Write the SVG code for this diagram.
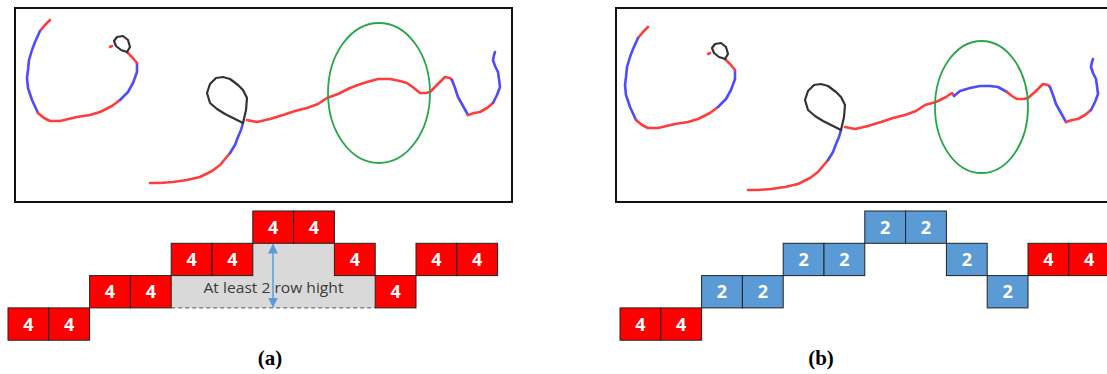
<svg xmlns="http://www.w3.org/2000/svg" width="1107" height="374" viewBox="0 0 1107 374">
<style>
.frame{fill:#fff;stroke:#111;stroke-width:2}
.s{fill:none;stroke-width:2.6;stroke-linejoin:round;stroke-linecap:round}
.r{stroke:#ff3d3d}
.b{stroke:#4d4dff}
.k{stroke:#333;stroke-width:2.2}
.g{fill:none;stroke:#2aa64a;stroke-width:1.8}
.cr{fill:#ff0000;stroke:#222;stroke-width:1}
.cb{fill:#5b9bd5;stroke:#222;stroke-width:1}
.n{font-family:"Open Sans","Liberation Sans",sans-serif;font-weight:bold;font-size:18px;fill:#fff;text-anchor:middle}
.lbl{font-family:"Liberation Serif",serif;font-weight:bold;font-size:21px;fill:#000;text-anchor:middle}
.note{font-family:"Open Sans","Liberation Sans",sans-serif;font-size:15px;fill:#3a3a3a;text-anchor:middle}
</style>
<defs>
<marker id="ah" viewBox="0 0 10 10" refX="9" refY="5" markerWidth="10" markerHeight="10" markerUnits="userSpaceOnUse" orient="auto-start-reverse">
<path d="M0,0 L10,5 L0,10 Z" fill="#5b9bd5"/>
</marker>
</defs>

<!-- Panel (a) drawing -->
<g id="panel-a">
<rect class="frame" x="15" y="8" width="497" height="194"/>
<g id="strokes-a">
<polyline class="s r" points="50,20 45,25 40,31"/>
<polyline class="s b" points="40,31 35,42 32,50 29,60 28,70 27,78 28,88 32,100 38,113"/>
<polyline class="s r" points="38,113 44,118 50,121 60,121 77,117 90,115 100,112 112,106 120,100"/>
<polyline class="s b" points="120,100 128,92 133,83 137,72 137,63"/>
<polyline class="s r" points="137,63 132,57 127,52"/>
<polyline class="s k" points="127,52 130,47 128,40 123,36 117,37 114,41 116,46 121,50 127,52"/>
<polyline class="s r" points="112,46 110,47"/>
<polyline class="s r" points="150,183 160,183 173,182 187,180 200,177 212,171 220,165 230,153"/>
<polyline class="s b" points="230,153 235,145 238,137 241,130 243,123"/>
<polyline class="s k" points="243,123 246,110 247,98 243,90 238,85 230,79 223,77 216,78 210,84 207,93 210,103 217,109 225,114 243,123"/>
<polyline class="s r" points="247,120 257,122 270,119 283,115 295,111 307,108 318,104 327,98 338,94 350,88 358,85 367,82 378,79 390,79 400,81 407,83 414,88 420,93 426,93 430,92 437,85 445,77 450,78 452,80"/>
<polyline class="s b" points="452,80 455,88 458,97 463,106 468,115"/>
<polyline class="s r" points="468,115 474,113 480,112 487,108 493,103"/>
<polyline class="s b" points="493,103 497,95 500,87 499,79 498,72 495,66 493,60 494,55 495,52"/>
</g>
<ellipse class="g" cx="379" cy="93" rx="51" ry="70"/>
</g>

<!-- Panel (b) drawing -->
<g id="panel-b">
<rect class="frame" x="616" y="8" width="500" height="194"/>
<g id="strokes-b" transform="translate(598,7)">
<polyline class="s r" points="50,20 45,25 40,31"/>
<polyline class="s b" points="40,31 35,42 32,50 29,60 28,70 27,78 28,88 32,100 38,113"/>
<polyline class="s r" points="38,113 44,118 50,121 60,121 77,117 90,115 100,112 112,106 120,100"/>
<polyline class="s b" points="120,100 128,92 133,83 137,72 137,63"/>
<polyline class="s r" points="137,63 132,57 127,52"/>
<polyline class="s k" points="127,52 130,47 128,40 123,36 117,37 114,41 116,46 121,50 127,52"/>
<polyline class="s r" points="112,46 110,47"/>
<polyline class="s r" points="150,183 160,183 173,182 187,180 200,177 212,171 220,165 230,153"/>
<polyline class="s b" points="230,153 235,145 238,137 241,130 243,123"/>
<polyline class="s k" points="243,123 246,110 247,98 243,90 238,85 230,79 223,77 216,78 210,84 207,93 210,103 217,109 225,114 243,123"/>
<polyline class="s r" points="247,120 257,122 270,119 283,115 295,111 307,108 318,104 327,98 338,95 348,90 354,86 356,89"/>
<polyline class="s b" points="356,89 362,84 372,81 382,79 392,79 400,80 409,85"/>
<polyline class="s r" points="409,85 414,89 419,92 426,92 430,91 437,85 445,77 450,78 452,80"/>
<polyline class="s b" points="452,80 455,88 458,97 463,106 468,115"/>
<polyline class="s r" points="468,115 474,113 480,112 487,108 493,103"/>
<polyline class="s b" points="493,103 497,95 500,87 499,79 498,72 495,66 493,60 494,55 495,52"/>
</g>
<ellipse class="g" cx="981.5" cy="107" rx="46.5" ry="66"/>
</g>

<!-- Grid (a) -->
<path id="gap-region" d="M252.8,243.3 H334.4 V275.6 H375.2 V307.9 H171.2 V275.6 H252.8 Z" fill="#d9d9d9"/>
<line x1="171.2" y1="307.9" x2="375.2" y2="307.9" stroke="#555" stroke-width="1" stroke-dasharray="4,3"/>

<g id="a-r3c0"><rect class="cr" x="8" y="307.9" width="40.8" height="32.3"/><text class="n" x="28.4" y="330.5">4</text></g>
<g id="a-r3c1"><rect class="cr" x="48.8" y="307.9" width="40.8" height="32.3"/><text class="n" x="69.2" y="330.5">4</text></g>
<g id="a-r2c2"><rect class="cr" x="89.6" y="275.6" width="40.8" height="32.3"/><text class="n" x="110" y="298.2">4</text></g>
<g id="a-r2c3"><rect class="cr" x="130.4" y="275.6" width="40.8" height="32.3"/><text class="n" x="150.8" y="298.2">4</text></g>
<g id="a-r1c4"><rect class="cr" x="171.2" y="243.3" width="40.8" height="32.3"/><text class="n" x="191.6" y="265.9">4</text></g>
<g id="a-r1c5"><rect class="cr" x="212" y="243.3" width="40.8" height="32.3"/><text class="n" x="232.4" y="265.9">4</text></g>
<g id="a-r0c6"><rect class="cr" x="252.8" y="211" width="40.8" height="32.3"/><text class="n" x="273.2" y="233.6">4</text></g>
<g id="a-r0c7"><rect class="cr" x="293.6" y="211" width="40.8" height="32.3"/><text class="n" x="314" y="233.6">4</text></g>
<g id="a-r1c8"><rect class="cr" x="334.4" y="243.3" width="40.8" height="32.3"/><text class="n" x="354.8" y="265.9">4</text></g>
<g id="a-r2c9"><rect class="cr" x="375.2" y="275.6" width="40.8" height="32.3"/><text class="n" x="395.6" y="298.2">4</text></g>
<g id="a-r1c10"><rect class="cr" x="416" y="243.3" width="40.8" height="32.3"/><text class="n" x="436.4" y="265.9">4</text></g>
<g id="a-r1c11"><rect class="cr" x="456.8" y="243.3" width="40.8" height="32.3"/><text class="n" x="477.2" y="265.9">4</text></g>

<text id="gap-note" class="note" x="273.5" y="293" textLength="140" lengthAdjust="spacingAndGlyphs">At least 2 row hight</text>

<g id="connectors">
<line x1="273" y1="244.5" x2="273" y2="306.5" stroke="#5b9bd5" stroke-width="1.5" marker-start="url(#ah)" marker-end="url(#ah)"/>
</g>

<!-- Grid (b) -->
<g id="b-r3c0"><rect class="cr" x="620" y="307.9" width="40.8" height="32.3"/><text class="n" x="640.4" y="330.5">4</text></g>
<g id="b-r3c1"><rect class="cr" x="660.8" y="307.9" width="40.8" height="32.3"/><text class="n" x="681.2" y="330.5">4</text></g>
<g id="b-r2c2"><rect class="cb" x="701.6" y="275.6" width="40.8" height="32.3"/><text class="n" x="722" y="298.2">2</text></g>
<g id="b-r2c3"><rect class="cb" x="742.4" y="275.6" width="40.8" height="32.3"/><text class="n" x="762.8" y="298.2">2</text></g>
<g id="b-r1c4"><rect class="cb" x="783.2" y="243.3" width="40.8" height="32.3"/><text class="n" x="803.6" y="265.9">2</text></g>
<g id="b-r1c5"><rect class="cb" x="824" y="243.3" width="40.8" height="32.3"/><text class="n" x="844.4" y="265.9">2</text></g>
<g id="b-r0c6"><rect class="cb" x="864.8" y="211" width="40.8" height="32.3"/><text class="n" x="885.2" y="233.6">2</text></g>
<g id="b-r0c7"><rect class="cb" x="905.6" y="211" width="40.8" height="32.3"/><text class="n" x="926" y="233.6">2</text></g>
<g id="b-r1c8"><rect class="cb" x="946.4" y="243.3" width="40.8" height="32.3"/><text class="n" x="966.8" y="265.9">2</text></g>
<g id="b-r2c9"><rect class="cb" x="987.2" y="275.6" width="40.8" height="32.3"/><text class="n" x="1007.6" y="298.2">2</text></g>
<g id="b-r1c10"><rect class="cr" x="1028" y="243.3" width="40.8" height="32.3"/><text class="n" x="1048.4" y="265.9">4</text></g>
<g id="b-r1c11"><rect class="cr" x="1068.8" y="243.3" width="40.8" height="32.3"/><text class="n" x="1089.2" y="265.9">4</text></g>

<text id="label-a" class="lbl" x="270" y="365">(a)</text>
<text id="label-b" class="lbl" x="821" y="365">(b)</text>
</svg>
